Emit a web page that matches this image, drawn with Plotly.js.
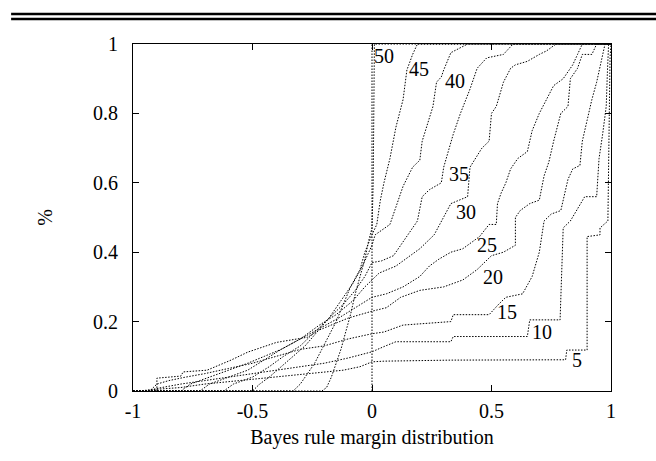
<!DOCTYPE html>
<html>
<head>
<meta charset="utf-8">
<script src="https://cdn.plot.ly/plotly-3.0.1.min.js"></script>
<style>html,body{margin:0;padding:0;background:#fff;}#chart{width:656px;height:461px;}</style>
</head>
<body>
<div id="chart"></div>
<script>
// ---- data ----
const seriesNames = ['5','10','15','20','25','30','35','40','45','50'];

const x5  = [-1,-0.98,-0.9,-0.8,-0.7,-0.55,-0.4,-0.25,-0.12,-0.05,0,0.05,0.33,0.81,0.815,0.9,0.9,0.954,0.954,0.987,0.99,0.996,1];
const y5  = [0,0,0.005,0.01,0.02,0.03,0.04,0.05,0.06,0.07,0.084,0.086,0.089,0.09,0.118,0.118,0.445,0.45,0.47,0.49,0.63,0.96,1];

const x10 = [-1,-0.95,-0.88,-0.8,-0.7,-0.6,-0.5,-0.4,-0.3,-0.2,-0.1,0,0.05,0.1,0.33,0.34,0.65,0.66,0.787,0.79,0.8,0.83,0.89,0.94,0.95,0.965,0.98,0.985,0.99,1];
const y10 = [0,0,0.01,0.02,0.03,0.04,0.05,0.06,0.07,0.08,0.095,0.113,0.128,0.142,0.142,0.157,0.157,0.205,0.205,0.28,0.47,0.49,0.56,0.56,0.67,0.74,0.82,0.92,1,1];

const x15 = [-1,-0.93,-0.9,-0.85,-0.78,-0.7,-0.6,-0.5,-0.4,-0.3,-0.2,-0.1,0,0.05,0.13,0.33,0.34,0.49,0.53,0.56,0.63,0.67,0.7,0.72,0.75,0.79,0.82,0.84,0.87,0.88,0.9,0.92,0.94,0.96,0.975,1];
const y15 = [0,0,0.02,0.03,0.04,0.05,0.065,0.08,0.1,0.12,0.13,0.15,0.165,0.17,0.19,0.2,0.22,0.22,0.25,0.27,0.28,0.33,0.4,0.49,0.51,0.52,0.61,0.64,0.65,0.72,0.78,0.84,0.89,0.95,1,1];

const x20 = [-1,-0.9,-0.9,-0.8,-0.79,-0.69,-0.59,-0.52,-0.4,-0.27,-0.22,-0.1,0,0.06,0.12,0.2,0.3,0.38,0.44,0.47,0.5,0.55,0.6,0.6,0.62,0.66,0.7,0.72,0.74,0.76,0.79,0.82,0.83,0.86,0.88,0.92,0.94,1];
const y20 = [0,0,0.037,0.043,0.055,0.06,0.089,0.112,0.14,0.155,0.176,0.21,0.23,0.24,0.27,0.29,0.3,0.32,0.35,0.37,0.39,0.4,0.42,0.5,0.52,0.54,0.55,0.62,0.66,0.72,0.8,0.82,0.9,0.93,0.97,0.97,1,1];

const x25 = [-1,-0.8,-0.76,-0.68,-0.6,-0.52,-0.45,-0.38,-0.3,-0.22,-0.14,-0.07,0,0.06,0.13,0.2,0.24,0.28,0.33,0.38,0.42,0.45,0.49,0.52,0.525,0.54,0.56,0.58,0.61,0.65,0.67,0.7,0.73,0.76,0.8,0.84,0.86,0.88,1];
const y25 = [0,0,0.02,0.04,0.06,0.08,0.1,0.12,0.15,0.18,0.21,0.24,0.27,0.28,0.3,0.33,0.36,0.38,0.4,0.41,0.43,0.445,0.48,0.48,0.54,0.57,0.6,0.64,0.67,0.69,0.75,0.8,0.84,0.88,0.9,0.94,0.97,1,1];

const x30 = [-1,-0.72,-0.68,-0.6,-0.52,-0.45,-0.38,-0.3,-0.22,-0.15,-0.08,-0.03,0,0.03,0.1,0.14,0.2,0.26,0.29,0.33,0.4,0.41,0.46,0.49,0.5,0.52,0.55,0.58,0.6,0.65,0.7,0.73,0.77,1];
const y30 = [0,0,0.02,0.04,0.06,0.09,0.12,0.15,0.19,0.22,0.26,0.3,0.32,0.34,0.36,0.38,0.41,0.45,0.49,0.54,0.56,0.645,0.7,0.72,0.8,0.82,0.89,0.93,0.94,0.95,0.97,0.98,1,1];

const x35 = [-1,-0.62,-0.58,-0.5,-0.43,-0.37,-0.3,-0.24,-0.18,-0.12,-0.07,-0.03,0,0.04,0.09,0.12,0.15,0.19,0.21,0.24,0.29,0.3,0.34,0.37,0.41,0.44,0.48,0.55,0.59,1];
const y35 = [0,0,0.02,0.04,0.07,0.1,0.13,0.17,0.21,0.25,0.29,0.33,0.37,0.375,0.39,0.42,0.45,0.49,0.56,0.58,0.6,0.645,0.74,0.8,0.87,0.93,0.96,0.97,1,1];

const x40 = [-1,-0.5,-0.47,-0.43,-0.38,-0.33,-0.28,-0.23,-0.18,-0.13,-0.08,-0.04,0,0.013,0.075,0.1,0.13,0.17,0.2,0.21,0.255,0.27,0.29,0.3,0.33,0.4,1];
const y40 = [0,0,0.02,0.04,0.07,0.1,0.13,0.17,0.21,0.26,0.31,0.36,0.42,0.45,0.48,0.53,0.59,0.645,0.665,0.72,0.82,0.89,0.905,0.925,0.975,1,1];

const x45 = [-1,-0.33,-0.3,-0.27,-0.24,-0.21,-0.18,-0.15,-0.12,-0.09,-0.05,-0.03,0,0.02,0.035,0.05,0.075,0.1,0.13,0.146,0.17,0.19,1];
const y45 = [0,0,0.02,0.05,0.08,0.12,0.16,0.2,0.25,0.3,0.35,0.4,0.45,0.48,0.55,0.6,0.67,0.76,0.84,0.925,0.97,1,1];

const x50 = [-1,-0.21,-0.19,-0.17,-0.15,-0.13,-0.11,-0.09,-0.07,-0.05,-0.03,-0.015,0,0.005,0.008,0.01,1];
const y50 = [0,0,0.01,0.04,0.08,0.12,0.17,0.22,0.28,0.33,0.38,0.43,0.47,0.6,0.8,1,1];

const xTickVals = [-1,-0.5,0,0.5,1];
const xTickText = ['-1','-0.5','0','0.5','1'];
const yTickVals = [0,0.2,0.4,0.6,0.8,1];
const yTickText = ['0','0.2','0.4','0.6','0.8','1'];

// ---- layout configuration ----
const xs = [x5,x10,x15,x20,x25,x30,x35,x40,x45,x50];
const ys = [y5,y10,y15,y20,y25,y30,y35,y40,y45,y50];
const labelAnchors = [[0.858,0.089],[0.711,0.17],[0.565,0.228],[0.506,0.328],[0.48,0.42],[0.393,0.516],[0.364,0.625],[0.347,0.893],[0.197,0.928],[0.052,0.965]];

const FONT = 'Liberation Serif';
const FS = 20;
const DOT = '1.5px,1.5px';

const traces = seriesNames.map((name,i) => ({
  type: 'scatter', mode: 'lines', name: name,
  x: xs[i], y: ys[i],
  line: {color: '#000', width: 1, dash: DOT, shape: 'linear'},
  hoverinfo: 'skip', showlegend: false
}));

const annotations = seriesNames.map((name,i) => ({
  x: labelAnchors[i][0], y: labelAnchors[i][1], xref: 'x', yref: 'y',
  text: name, showarrow: false, xanchor: 'center', yanchor: 'middle',
  font: {family: FONT, size: FS, color: '#000'}
}));

const layout = {
  width: 656, height: 461,
  margin: {l: 133, r: 45, t: 44, b: 70, pad: 0},
  paper_bgcolor: '#fff', plot_bgcolor: '#fff',
  font: {family: FONT, size: FS, color: '#000'},
  showlegend: false,
  xaxis: {
    range: [-1, 1], autorange: false,
    tickvals: xTickVals, ticktext: xTickText,
    ticks: 'inside', ticklen: 6, tickwidth: 1, tickcolor: '#000',
    showline: true, linecolor: '#000', linewidth: 1, mirror: 'allticks',
    showgrid: false, zeroline: false,
    ticklabelstandoff: 2,
    tickfont: {family: FONT, size: FS, color: '#000'},
    title: {text: 'Bayes rule margin distribution', font: {family: FONT, size: FS, color: '#000'}, standoff: 8}
  },
  yaxis: {
    range: [0, 1], autorange: false,
    tickvals: yTickVals, ticktext: yTickText,
    ticks: 'inside', ticklen: 6, tickwidth: 1, tickcolor: '#000',
    showline: true, linecolor: '#000', linewidth: 1, mirror: 'allticks',
    showgrid: false, zeroline: false,
    ticklabelstandoff: 10,
    tickfont: {family: FONT, size: FS, color: '#000'},
    title: {text: '%', font: {family: FONT, size: FS, color: '#000'}, standoff: 35}
  },
  shapes: [
    {type: 'line', xref: 'x', yref: 'paper', x0: 0, x1: 0, y0: 0, y1: 1,
     line: {color: '#000', width: 1, dash: DOT}},
    {type: 'line', xref: 'paper', yref: 'paper', x0: -0.255, x1: 1.1, y0: 1.0865, y1: 1.0865,
     line: {color: '#000', width: 2.5}},
    {type: 'line', xref: 'paper', yref: 'paper', x0: -0.255, x1: 1.1, y0: 1.072, y1: 1.072,
     line: {color: '#000', width: 2.5}}
  ],
  annotations: annotations
};

Plotly.newPlot('chart', traces, layout, {displayModeBar: false, staticPlot: true});
</script>
</body>
</html>
